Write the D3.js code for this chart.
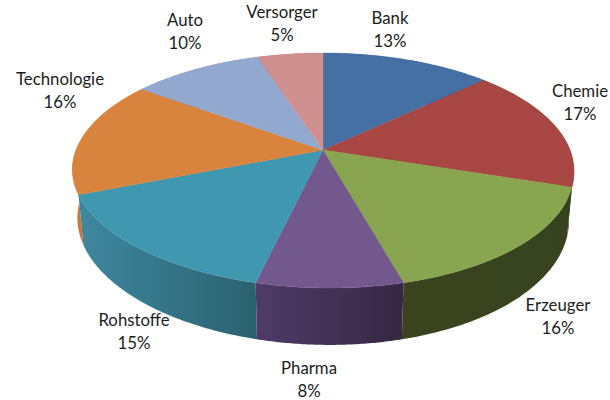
<!DOCTYPE html>
<html>
<head>
<meta charset="utf-8">
<script src="https://cdn.jsdelivr.net/npm/d3@7"></script>
<style>
	body { margin: 0; background: #fff; }
	text { font-family: Lato, "Open Sans", sans-serif; font-size: 16.8px; fill: #1c1c1c; }
</style>
</head>
<body>
<svg id="chart" width="610" height="400"></svg>
<script>
const categories = ['Bank', 'Chemie', 'Erzeuger', 'Pharma', 'Rohstoffe', 'Technologie', 'Auto', 'Versorger'];
const shares = [13, 17, 16, 8, 15, 16, 10, 5];

const topColors = ['#4470a4', '#a84644', '#89a54f', '#72588d', '#4097b0', '#d9843e', '#93a8cf', '#cf8f8f'];
const wallLight = ['#3a5f8a', '#8e3a38', '#3a451f', '#4f3b68', '#3e88a0', '#cc7a33', '#7d8fb0', '#b07a7a'];
const wallDark = ['#2f4e72', '#752f2e', '#37421f', '#352843', '#2b616e', '#b86e2d', '#6b7a96', '#966868'];

// centre of each label (first line baseline, second line follows)
const labelX = [390, 580, 558, 309, 134, 60, 185, 282];
const labelY = [24, 97, 311, 374, 326, 85, 26, 18];

// perspective of the disc
const cx = 323, cy = 150;
const a = 247, b = 113.9, k = 0.1745;
const depth = 47, shrink = 0.98;

function project(angle, ring) {
	let u = Math.sin(angle),
		v = -Math.cos(angle),
		w = 1 - k * v,
		skew = v > 0 ? 7 * v * v : 0;
	let x = (a * u) / w + skew,
		y = (b * v) / w;
	if (ring === 'bottom') {
		return [cx + x * shrink, cy + y + depth / w];
	}
	return [cx + x, cy + y];
}

function arcPoints(d, ring) {
	let n = 60;
	return d3.range(n + 1).map(i => project(d.startAngle + (d.endAngle - d.startAngle) * i / n, ring));
}

const pie = d3.pie().sort(null).value(d => d);
const slices = pie(shares);
const line = d3.line();

const svg = d3.select('#chart');
const defs = svg.append('defs');

// side walls, back ones first
let wallOrder = slices.map((d, i) => i)
	.sort((i, j) => {
		let mi = (slices[i].startAngle + slices[i].endAngle) / 2,
			mj = (slices[j].startAngle + slices[j].endAngle) / 2;
		return -Math.cos(mi) - -Math.cos(mj);
	});

wallOrder.forEach(i => {
	let d = slices[i],
		top = arcPoints(d, 'top'),
		bottom = arcPoints(d, 'bottom').reverse(),
		xs = top.map(p => p[0]),
		grad = defs.append('linearGradient')
			.attr('id', `wall${i}`)
			.attr('gradientUnits', 'userSpaceOnUse')
			.attr('x1', d3.min(xs)).attr('x2', d3.max(xs))
			.attr('y1', 0).attr('y2', 0);
	grad.append('stop').attr('offset', 0).attr('stop-color', wallLight[i]);
	grad.append('stop').attr('offset', 1).attr('stop-color', wallDark[i]);

	svg.append('path')
		.attr('d', line(top.concat(bottom)) + 'Z')
		.attr('fill', `url(#wall${i})`);
});

// top faces
slices.forEach((d, i) => {
	let points = [[cx, cy]].concat(arcPoints(d, 'top'));
	svg.append('path')
		.attr('d', line(points) + 'Z')
		.attr('fill', topColors[i])
		.attr('stroke', topColors[i])
		.attr('stroke-width', 0.4);
});

// labels
categories.forEach((name, i) => {
	let label = svg.append('text').attr('text-anchor', 'middle');
	label.append('tspan').attr('x', labelX[i]).attr('y', labelY[i]).text(name);
	label.append('tspan').attr('x', labelX[i]).attr('y', labelY[i] + 23).text(`${shares[i]}%`);
});
</script>
</body>
</html>
